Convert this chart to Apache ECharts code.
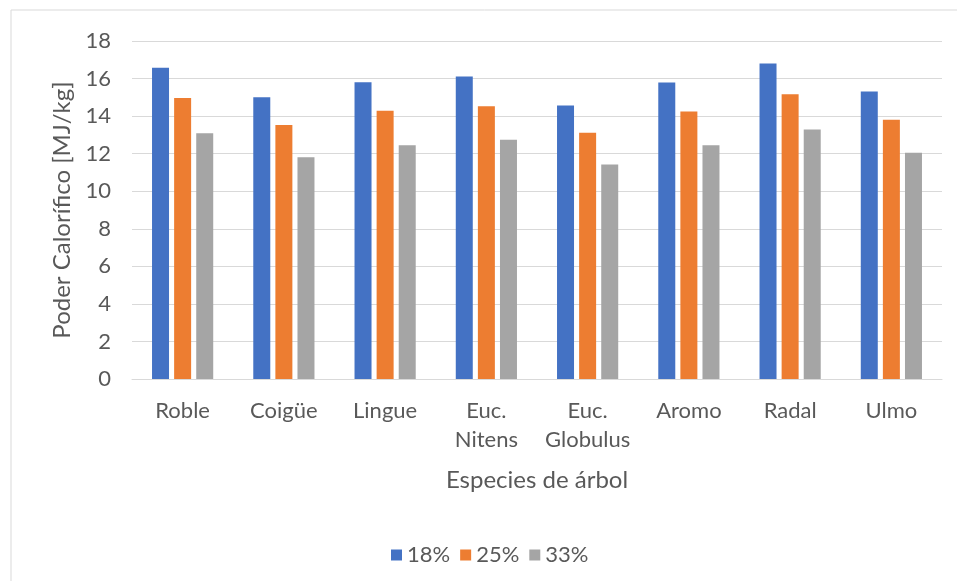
<!DOCTYPE html>
<html>
<head>
<meta charset="utf-8">
<script src="https://cdn.jsdelivr.net/npm/echarts@6/dist/echarts.min.js"></script>
<style>
  html, body { margin: 0; padding: 0; background: #fff; }
  #chart { width: 957px; height: 581px; }
</style>
</head>
<body>
<div id="chart"></div>
<script>
// Calorific value per tree species at three moisture contents
const species = ['Roble', 'Coigüe', 'Lingue', 'Euc.\nNitens', 'Euc.\nGlobulus', 'Aromo', 'Radal', 'Ulmo'];
const h18 = [16.57, 15.00, 15.80, 16.11, 14.57, 15.79, 16.80, 15.31];
const h25 = [14.97, 13.52, 14.28, 14.53, 13.11, 14.25, 15.17, 13.80];
const h33 = [13.09, 11.81, 12.45, 12.74, 11.42, 12.45, 13.29, 12.05];
const seriesNames = ['18%', '25%', '33%'];
const colors = ['#4472C4', '#ED7D31', '#A5A5A5'];

const font = 'Lato, "Open Sans", sans-serif';
const textColor = '#595959';

const chart = echarts.init(document.getElementById('chart'), null, { renderer: 'canvas' });

chart.setOption({
  animation: false,
  backgroundColor: '#fff',
  color: colors,
  textStyle: { fontFamily: font },
  graphic: [{
    type: 'rect',
    shape: { x: 11, y: 10, width: 970, height: 600 },
    style: { fill: 'none', stroke: '#D9D9D9', lineWidth: 1 },
    silent: true
  }],
  grid: { left: 132, right: 15, top: 41, bottom: 202, containLabel: false },
  legend: {
    data: seriesNames,
    left: 386,
    top: 539,
    icon: 'rect',
    itemWidth: 11,
    itemHeight: 11,
    itemGap: 10,
    textStyle: { color: textColor, fontSize: 22, fontFamily: font }
  },
  xAxis: {
    type: 'category',
    data: species,
    name: 'Especies de árbol',
    nameLocation: 'middle',
    nameGap: 101,
    nameTextStyle: { color: textColor, fontSize: 24, fontFamily: font, verticalAlign: 'middle' },
    axisLine: { lineStyle: { color: '#D9D9D9', width: 1 } },
    axisTick: { show: false },
    axisLabel: { color: textColor, fontSize: 22, lineHeight: 29, margin: 17, interval: 0, fontFamily: font }
  },
  yAxis: {
    type: 'value',
    min: 0,
    max: 18,
    interval: 2,
    name: 'Poder Calorífico [MJ/kg]',
    nameLocation: 'middle',
    nameGap: 66,
    nameTextStyle: { color: textColor, fontSize: 24, fontFamily: font, verticalAlign: 'middle' },
    axisLine: { show: false },
    axisTick: { show: false },
    axisLabel: { color: textColor, fontSize: 22, margin: 21, fontFamily: font },
    splitLine: { lineStyle: { color: '#D9D9D9', width: 1 } }
  },
  series: [
    { name: seriesNames[0], type: 'bar', data: h18, barWidth: 17, barGap: '30%' },
    { name: seriesNames[1], type: 'bar', data: h25, barWidth: 17, barGap: '30%' },
    { name: seriesNames[2], type: 'bar', data: h33, barWidth: 17, barGap: '30%' }
  ]
});
</script>
</body>
</html>
